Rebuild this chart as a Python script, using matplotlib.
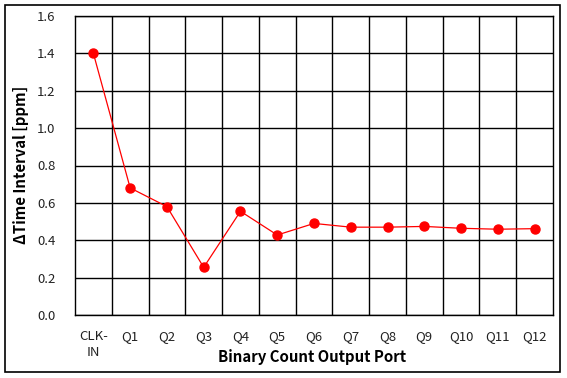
import matplotlib
matplotlib.use("Agg")
import matplotlib.pyplot as plt
from matplotlib.patches import Rectangle
from matplotlib.ticker import FixedLocator

plt.rcParams['font.family'] = ['Noto Sans CJK KR', 'DejaVu Sans']

categories = ["CLK-\nIN", "Q1", "Q2", "Q3", "Q4", "Q5", "Q6", "Q7", "Q8", "Q9", "Q10", "Q11", "Q12"]
values = [1.40, 0.68, 0.58, 0.255, 0.555, 0.428, 0.49, 0.47, 0.47, 0.474, 0.464, 0.459, 0.462]
yticks = [0.0, 0.2, 0.4, 0.6, 0.8, 1.0, 1.2, 1.4, 1.6]

W, H = 567, 378
fig = plt.figure(figsize=(W/100, H/100), dpi=100)
left, right, top, bottom = 75, 553, 16, 315
ax = fig.add_axes([left/W, 1-bottom/H, (right-left)/W, (bottom-top)/H])

x = list(range(len(categories)))
ax.plot(x, values, color='#ff0000', lw=0.9, marker='o', markersize=6.5,
        markerfacecolor='#ff0000', markeredgecolor='#ff0000')

ax.set_xlim(-0.5, len(categories)-0.5)
ax.set_ylim(0, 1.6)
ax.set_yticks(yticks)
ax.set_yticklabels([f"{v:.1f}" for v in yticks])
ax.set_xticks(x)
ax.set_xticklabels(categories, linespacing=1.25)
ax.xaxis.set_minor_locator(FixedLocator([i+0.5 for i in range(len(categories)-1)]))
ax.grid(which='minor', axis='x', color='black', lw=1.0)
ax.grid(which='major', axis='y', color='black', lw=1.0)
ax.tick_params(which='both', length=0)
ax.tick_params(axis='y', pad=14, labelsize=9.5, labelcolor='#222222')
ax.tick_params(axis='x', pad=11, labelsize=9.5, labelcolor='#222222')
ax.set_axisbelow(True)
for s in ax.spines.values():
    s.set_color('black')
    s.set_linewidth(1.0)

fig.text(21/W, 1-165/H, "ΔTime Interval [ppm]", fontsize=10.8, fontweight='bold',
         rotation=90, ha='center', va='center')
fig.text(312/W, 1-357/H, "Binary Count Output Port", fontsize=10.8, fontweight='bold',
         ha='center', va='center')

fig.patches.append(Rectangle((5/W, 1-372/H), 555/W, 367/H, transform=fig.transFigure,
                             fill=False, edgecolor='black', lw=1.2))

fig.savefig("out.png", dpi=100)
